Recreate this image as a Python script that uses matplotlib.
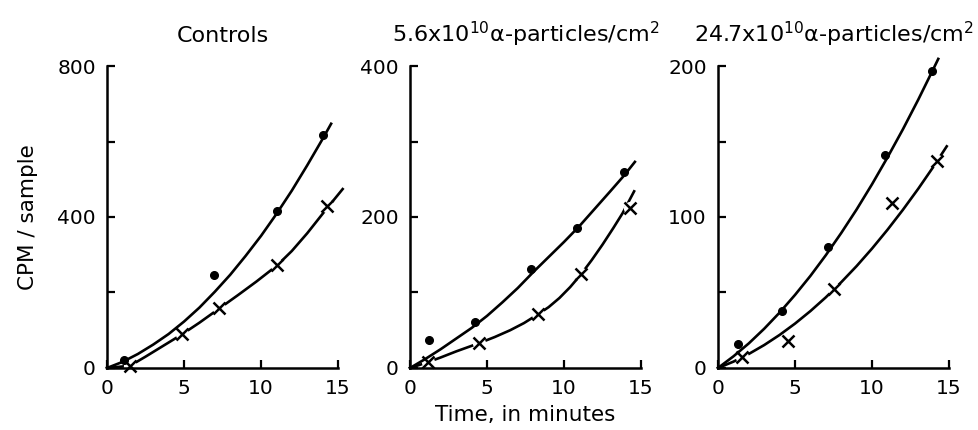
import matplotlib
matplotlib.use("Agg")
import matplotlib.pyplot as plt
from matplotlib.ticker import MultipleLocator

# values: time (min) vs CPM/sample
titles = ["Controls",
          "5.6x10$^{10}$α-particles/cm$^{2}$",
          "24.7x10$^{10}$α-particles/cm$^{2}$"]
y_max = [800, 400, 200]
y_major = [400, 200, 100]

# Controls
ctrl_dot_t = [1.1, 6.95, 11.05, 14.0]
ctrl_dot_cpm = [22, 246, 416, 616]
ctrl_x_t = [1.5, 4.9, 7.3, 11.05, 14.3]
ctrl_x_cpm = [4, 90, 159, 273, 430]
ctrl_dot_curve_t = [0, 1, 2, 3, 4, 5, 6, 7, 8, 9, 10, 11, 12, 13, 14, 14.55]
ctrl_dot_curve_cpm = [0, 16, 37, 62, 90, 123, 160, 202, 247, 297, 350, 408, 470, 537, 607, 647]
ctrl_x_curve_t = [0, 1.5, 2.5, 3.5, 4.9, 6, 7.3, 8.5, 9.7, 11.05, 12, 13, 14.3, 15.3]
ctrl_x_curve_cpm = [0, 6, 30, 55, 90, 120, 158, 193, 229, 272, 310, 357, 424, 474]

# 5.6x10^10 alpha-particles/cm2
low_dot_t = [1.25, 4.2, 7.85, 10.85, 13.9]
low_dot_cpm = [37, 61, 131, 185, 260]
low_x_t = [1.2, 4.5, 8.3, 11.1, 14.3]
low_x_cpm = [8, 33, 71, 124, 212]
low_dot_curve_t = [0, 1, 2, 3, 4, 5, 6, 7, 8, 9, 10, 11, 12, 13, 13.9, 14.6]
low_dot_curve_cpm = [0, 12, 25, 39, 53, 69, 87, 106, 127, 147, 167, 188, 211, 234, 255, 273]
low_x_curve_t = [0, 1.2, 2, 3, 4.5, 5.5, 6.5, 7.4, 8.3, 9.0, 9.7, 10.4, 11.1,
                 11.8, 12.5, 13.2, 13.8, 14.55]
low_x_curve_cpm = [0, 8, 14, 22, 33, 41, 50, 59.5, 71, 80.6, 92.7, 107.2, 124,
                   143, 163.5, 185.4, 205, 234]

# 24.7x10^10 alpha-particles/cm2
high_dot_t = [1.27, 4.18, 7.16, 10.82, 13.88]
high_dot_cpm = [16, 38, 80, 141, 197]
high_x_t = [1.55, 4.57, 7.52, 11.3, 14.2]
high_x_cpm = [7, 18, 52, 109, 137]
high_dot_curve_t = [0, 1, 2, 3, 4, 5, 6, 7, 8, 9, 10, 11, 12, 13, 14, 14.3]
high_dot_curve_cpm = [0, 7.7, 16.3, 26, 36.7, 48.4, 61, 74.7, 89.4, 105, 121.7, 139.4, 158, 177.7, 198.4, 204.7]
high_x_curve_t = [0, 1, 2, 3, 4, 5, 6, 7, 8, 9, 10, 11, 12, 13, 14, 14.85]
high_x_curve_cpm = [0, 4.2, 9.3, 15.2, 21.9, 29.4, 37.7, 46.8, 56.8, 67.5, 79.1, 91.5, 104.7, 118.7, 133.5, 146.8]

panels = [
    (ctrl_dot_t, ctrl_dot_cpm, ctrl_x_t, ctrl_x_cpm,
     ctrl_dot_curve_t, ctrl_dot_curve_cpm, ctrl_x_curve_t, ctrl_x_curve_cpm),
    (low_dot_t, low_dot_cpm, low_x_t, low_x_cpm,
     low_dot_curve_t, low_dot_curve_cpm, low_x_curve_t, low_x_curve_cpm),
    (high_dot_t, high_dot_cpm, high_x_t, high_x_cpm,
     high_dot_curve_t, high_dot_curve_cpm, high_x_curve_t, high_x_curve_cpm),
]

plt.rcParams['font.family'] = ['DejaVu Sans']
plt.rcParams['mathtext.fontset'] = 'dejavusans'

fig = plt.figure(figsize=(9.79, 4.30), dpi=100)
lefts = [0.1093, 0.4188, 0.7334]
bottom, width, height = 0.1442, 0.236, 0.7023

for i, (dt, dy, xt, xy, dct, dcy, xct, xcy) in enumerate(panels):
    ax = fig.add_axes([lefts[i], bottom, width, height])
    lw = 1.9
    ax.plot(xct, xcy, color='black', lw=lw, clip_on=False, solid_joinstyle='round')
    # white halo so the curve breaks around each cross, as in the print
    ax.plot(xt, xy, linestyle='None', marker='o', ms=9.5, mfc='white', mec='none', clip_on=False)
    ax.plot(xt, xy, linestyle='None', marker='x', ms=8.5, mew=1.8, color='black', clip_on=False)
    ax.plot(dct, dcy, color='black', lw=lw, clip_on=False, solid_joinstyle='round')
    ax.plot(dt, dy, linestyle='None', marker='o', ms=5.5, color='black', clip_on=False)

    ax.set_xlim(0, 15)
    ax.set_ylim(0, y_max[i])
    ax.xaxis.set_major_locator(MultipleLocator(5))
    ax.yaxis.set_major_locator(MultipleLocator(y_major[i]))
    ax.yaxis.set_minor_locator(MultipleLocator(y_major[i] / 2))
    for s in ['top', 'right']:
        ax.spines[s].set_visible(False)
    for s in ['left', 'bottom']:
        ax.spines[s].set_linewidth(1.8)
    ax.tick_params(which='both', direction='in', length=6, width=1.6, labelsize=14.5, pad=8)
    ax.set_title(titles[i], fontsize=16, pad=17)

    if i == 0:
        ax.set_ylabel('CPM / sample', fontsize=15.5, labelpad=14)
    if i == 1:
        ax.set_xlabel('Time, in minutes', fontsize=15.5, labelpad=5)

fig.savefig('out.png', dpi=100)
